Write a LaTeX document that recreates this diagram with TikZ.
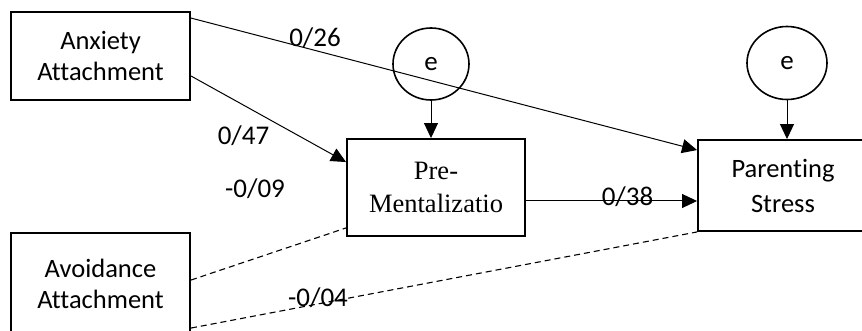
\documentclass[tikz,border=0pt]{standalone}
\usepackage{fontspec}
\setmainfont[Ligatures=NoCommon]{Carlito}
\newfontfamily\timesfont{Liberation Serif}
\usetikzlibrary{arrows.meta,shapes.geometric}

\begin{document}
\begin{tikzpicture}[x=1pt,y=-1pt,
    var/.style={draw,line width=1.9pt,align=center,inner sep=0pt,
        font=\fontsize{26.5}{31}\selectfont},
    err/.style={draw,ellipse,line width=1.6pt,inner sep=0pt,
        font=\fontsize{27}{31}\selectfont},
    coef/.style={anchor=base,inner sep=0pt,font=\fontsize{27}{31}\selectfont},
    path/.style={line width=1pt,-{Triangle[length=15pt,width=14pt]}},
    cov/.style={line width=1.1pt,dash pattern=on 6pt off 4pt},]
    \useasboundingbox (0,0) rectangle (862,331);

    \node[var,minimum width=179pt,minimum height=88pt] (anx) at (100.5,56) {Anxiety\\Attachment};
    \node[var,minimum width=179pt,minimum height=102pt] (avo) at (100.5,284) {Avoidance\\Attachment};
    \node[var,minimum width=178pt,minimum height=97pt,
        font=\timesfont\fontsize{26.5}{33}\selectfont] (pre) at (436,187.5) {Pre-\\Mentalizatio};
    \node[var,minimum width=170pt,minimum height=91pt,
        font=\fontsize{26.5}{35}\selectfont] (par) at (783,185.5) {Parenting\\Stress};

    \node[err,minimum width=76pt,minimum height=72pt] (e1) at (431,64) {e};
    \node[err,minimum width=80pt,minimum height=73pt] (e2) at (787,63) {e};

    \draw[path] (e1.south) -- (e1.south |- pre.north);
    \draw[path] (e2.south) -- (e2.south |- par.north);

    \draw[path] ([yshift=-7pt]anx.north east) -- ([yshift=-11pt]par.north west);
    \draw[path] ([yshift=25pt]anx.south east) -- ([yshift=-24pt]pre.north west);
    \coordinate (pm) at ([yshift=-13.5pt]pre.east);
    \draw[path] (pm) -- (pm -| par.west);
    \draw[cov] ([yshift=-48pt]avo.north east) -- ([yshift=9pt]pre.south west);
    \draw[cov] ([yshift=-96pt]avo.north east) -- (par.south west);

    \node[coef] (c1) at (315,47) {0/26};
    \node[coef] (c2) at (243.5,145) {0/47};
    \node[coef] (c3) at (255,198) {-0/09};
    \node[coef] (c4) at (627.5,206) {0/38};
    \node[coef] (c5) at (318,306) {-0/04};
\end{tikzpicture}
\end{document}
